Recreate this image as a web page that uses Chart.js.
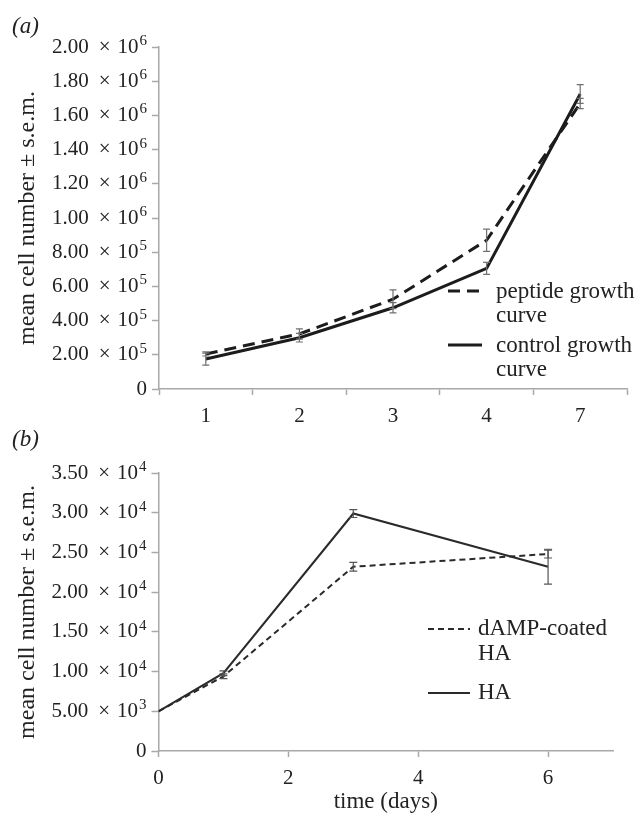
<!DOCTYPE html>
<html>
<head>
<meta charset="utf-8">
<script src="https://cdn.jsdelivr.net/npm/chart.js@4/dist/chart.umd.min.js"></script>
<style>
  html, body { margin:0; padding:0; background:#fff; }
  body { width:641px; height:813px; position:relative; overflow:hidden; font-family:"Liberation Serif", serif; }
  canvas { position:absolute; left:0; }
  #ca { top:0; }
  #cb { top:430px; }
  .plab { position:absolute; font-style:italic; font-size:23px; color:#222; font-family:"Liberation Serif", serif; z-index:2; line-height:1; }
</style>
</head>
<body>
<div class="plab" style="left:12px; top:14px;">(a)</div>
<div class="plab" style="left:12px; top:427px;">(b)</div>
<canvas id="ca" width="641" height="430"></canvas>
<canvas id="cb" width="641" height="383"></canvas>
<script>
// ---------- Panel (a) data ----------
const daysA = ['1', '2', '3', '4', '7'];
const peptideA = [205000, 322000, 525000, 870000, 1670000];
const peptideErrA = [12000, 30000, 55000, 65000, 30000];
const controlA = [175000, 300000, 475000, 705000, 1725000];
const controlErrA = [35000, 25000, 30000, 35000, 55000];
const yTicksA = ['0', '2.00 × 10^5', '4.00 × 10^5', '6.00 × 10^5', '8.00 × 10^5', '1.00 × 10^6',
                 '1.20 × 10^6', '1.40 × 10^6', '1.60 × 10^6', '1.80 × 10^6', '2.00 × 10^6'];
const legendA = [['peptide growth', 'curve'], ['control growth', 'curve']];

// ---------- Panel (b) data ----------
const daysB = [0, 1, 3, 6];
const dampB = [5000, 9400, 23200, 24800];
const dampErrB = [0, 300, 550, 500];
const haB = [5000, 9800, 29900, 23200];
const haErrB = [0, 300, 500, 2200];
const yTicksB = ['0', '5.00 × 10^3', '1.00 × 10^4', '1.50 × 10^4', '2.00 × 10^4', '2.50 × 10^4',
                 '3.00 × 10^4', '3.50 × 10^4'];
const xTicksB = ['0', '2', '4', '6'];
const legendB = [['dAMP-coated', 'HA'], ['HA']];

const FONT = 'Liberation Serif';
const TXT = '#222';
const AX = '#a8a8a8';

const errorBars = {
  id: 'errorBars',
  afterDatasetsDraw(chart) {
    const ctx = chart.ctx;
    const ys = chart.scales.y;
    chart.data.datasets.forEach((ds, i) => {
      if (!ds.errors) return;
      const meta = chart.getDatasetMeta(i);
      meta.data.forEach((pt, j) => {
        const v = ds.data[j];
        const val = (typeof v === 'object') ? v.y : v;
        const e = ds.errors[j];
        if (!e) return;
        const y1 = ys.getPixelForValue(val + e);
        const y2 = ys.getPixelForValue(val - e);
        const x = pt.x;
        const w = ds.capHalf || 3.5;
        ctx.save();
        ctx.strokeStyle = ds.errColor || '#666';
        ctx.lineWidth = 1.2;
        ctx.setLineDash([]);
        ctx.beginPath();
        ctx.moveTo(x, y1); ctx.lineTo(x, y2);
        ctx.moveTo(x - w, y1); ctx.lineTo(x + w, y1);
        ctx.moveTo(x - w, y2); ctx.lineTo(x + w, y2);
        ctx.stroke();
        ctx.restore();
      });
    });
  }
};

// y tick labels with real superscript exponents
function sciTicks(labels) {
  return {
    id: 'sciTicks',
    afterDraw(chart) {
      const ctx = chart.ctx;
      const s = chart.scales.y;
      const R = s.right - 12;
      ctx.save();
      ctx.fillStyle = TXT;
      ctx.textBaseline = 'middle';
      ctx.textAlign = 'left';
      const main = '21px "' + FONT + '"';
      const sup = '15px "' + FONT + '"';
      s.ticks.forEach((t, i) => {
        const lab = labels[i];
        if (lab === undefined) return;
        const y = s.getPixelForTick(i);
        if (lab.indexOf('^') < 0) {
          ctx.font = main;
          const w = ctx.measureText(lab).width;
          ctx.fillText(lab, R - w, y);
          return;
        }
        const m = lab.split(' × ')[0];
        const rest = lab.split(' × ')[1];
        const base = rest.split('^')[0];
        const ex = rest.split('^')[1];
        ctx.font = main;
        const wm = ctx.measureText(m).width;
        const wx = ctx.measureText('×').width;
        const wb = ctx.measureText(base).width;
        ctx.font = sup;
        const we = ctx.measureText(ex).width;
        const g1 = 10, g2 = 7, g3 = 1;
        let x = R - (wm + g1 + wx + g2 + wb + g3 + we);
        ctx.font = main;
        ctx.fillText(m, x, y); x += wm + g1;
        ctx.fillText('×', x, y); x += wx + g2;
        ctx.fillText(base, x, y); x += wb + g3;
        ctx.font = sup;
        ctx.fillText(ex, x, y - 6);
      });
      ctx.restore();
    }
  };
}

function legendPlugin(items, cfg) {
  return {
    id: 'customLegend',
    afterDraw(chart) {
      const ctx = chart.ctx;
      const ca = chart.chartArea;
      ctx.save();
      ctx.font = '23px "' + FONT + '"';
      ctx.fillStyle = TXT;
      ctx.textBaseline = 'middle';
      ctx.textAlign = 'left';
      items.forEach((lines, i) => {
        const ds = chart.data.datasets[i];
        const y = ca.top + cfg.y[i];
        const x0 = ca.right - cfg.fromRight;
        ctx.strokeStyle = ds.borderColor;
        ctx.lineWidth = ds.borderWidth;
        ctx.setLineDash(ds.borderDash || []);
        ctx.beginPath();
        ctx.moveTo(x0, y); ctx.lineTo(x0 + cfg.len, y);
        ctx.stroke();
        ctx.setLineDash([]);
        lines.forEach((t, k) => {
          ctx.fillText(t, x0 + cfg.len + cfg.gap, y + cfg.dy + k * cfg.lh);
        });
      });
      ctx.restore();
    }
  };
}

// ---------- Chart (a) ----------
new Chart(document.getElementById('ca'), {
  type: 'line',
  data: {
    labels: daysA,
    datasets: [
      { label: 'peptide growth curve', data: peptideA, errors: peptideErrA,
        borderColor: '#1c1c1c', borderWidth: 3, borderDash: [12, 7], pointRadius: 0, tension: 0, errColor: '#707070' },
      { label: 'control growth curve', data: controlA, errors: controlErrA,
        borderColor: '#1c1c1c', borderWidth: 3, pointRadius: 0, tension: 0, errColor: '#707070' }
    ]
  },
  options: {
    responsive: false,
    animation: false,
    layout: { padding: { top: 47, right: 14, left: 0, bottom: 0 } },
    plugins: { legend: { display: false }, tooltip: { enabled: false } },
    scales: {
      x: {
        type: 'category',
        offset: true,
        afterFit(s) { s.height = 41; },
        grid: { offset: true, drawOnChartArea: false, color: AX, tickLength: 6, tickWidth: 1.5 },
        border: { color: AX, width: 1.5 },
        ticks: { font: { family: FONT, size: 21 }, color: TXT, padding: 9, maxRotation: 0 }
      },
      y: {
        min: 0, max: 2000000,
        afterFit(s) { s.width = 159; },
        grid: { drawOnChartArea: false, color: AX, tickLength: 7, tickWidth: 1.5 },
        border: { color: AX, width: 1.5 },
        ticks: { stepSize: 200000, display: false },
        title: { display: true, text: 'mean cell number ± s.e.m.', font: { family: FONT, size: 24 },
                 color: TXT, padding: { top: 13, bottom: 0 } }
      }
    }
  },
  plugins: [errorBars, sciTicks(yTicksA),
            legendPlugin(legendA, { y: [244, 298], fromRight: 179, len: 34, gap: 14, lh: 24, dy: 1 })]
});

// ---------- Chart (b) ----------
new Chart(document.getElementById('cb'), {
  type: 'line',
  data: {
    datasets: [
      { label: 'dAMP-coated HA', data: daysB.map((d, i) => ({ x: d, y: dampB[i] })), errors: dampErrB,
        borderColor: '#2a2a2a', borderWidth: 2, borderDash: [6, 4], pointRadius: 0, tension: 0, errColor: '#555', capHalf: 4 },
      { label: 'HA', data: daysB.map((d, i) => ({ x: d, y: haB[i] })), errors: haErrB,
        borderColor: '#2a2a2a', borderWidth: 2, pointRadius: 0, tension: 0, errColor: '#555', capHalf: 4 }
    ]
  },
  options: {
    responsive: false,
    animation: false,
    layout: { padding: { top: 43, right: 28, left: 0, bottom: 0 } },
    plugins: { legend: { display: false }, tooltip: { enabled: false } },
    scales: {
      x: {
        type: 'linear', min: 0, max: 7,
        afterFit(s) { s.height = 62; },
        grid: { drawOnChartArea: false, color: AX, tickLength: 6, tickWidth: 1.5 },
        border: { color: AX, width: 1.5 },
        ticks: { stepSize: 2, includeBounds: false, font: { family: FONT, size: 21 }, color: TXT, padding: 9,
                 callback: (v, i) => xTicksB[i] },
        title: { display: true, text: 'time (days)', font: { family: FONT, size: 23, lineHeight: 1.0 }, color: TXT,
                 padding: { top: 0, bottom: 0 } }
      },
      y: {
        min: 0, max: 35000,
        afterFit(s) { s.width = 158.5; },
        grid: { drawOnChartArea: false, color: AX, tickLength: 7, tickWidth: 1.5 },
        border: { color: AX, width: 1.5 },
        ticks: { stepSize: 5000, display: false },
        title: { display: true, text: 'mean cell number ± s.e.m.', font: { family: FONT, size: 24 },
                 color: TXT, padding: { top: 13, bottom: 0 } }
      }
    }
  },
  plugins: [errorBars, sciTicks(yTicksB),
            legendPlugin(legendB, { y: [156, 220], fromRight: 185, len: 42, gap: 8, lh: 25, dy: 0 })]
});
</script>
</body>
</html>
